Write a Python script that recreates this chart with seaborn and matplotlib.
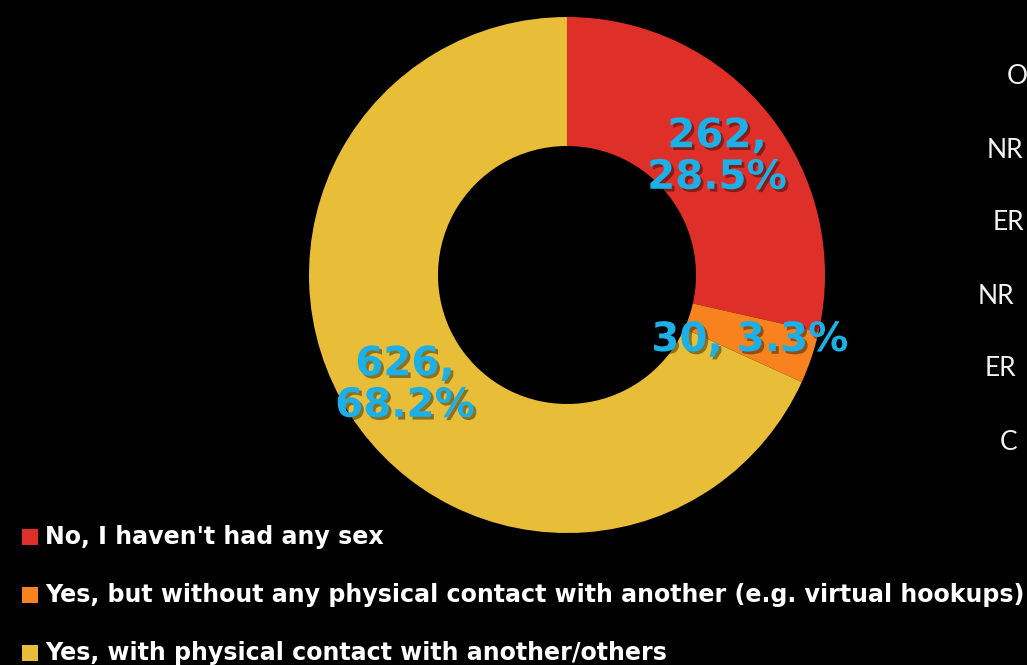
import matplotlib
matplotlib.use("Agg")
import matplotlib.pyplot as plt
import matplotlib.patheffects as pe
import seaborn as sns

categories = ["No, I haven't had any sex",
              "Yes, but without any physical contact with another (e.g. virtual hookups)",
              "Yes, with physical contact with another/others"]
counts = [262, 30, 626]
percents = [28.5, 3.3, 68.2]
colors = ["#DF2F29", "#F7821E", "#E8BE38"]
side_letters = ["O", "NR", "ER", "NR", "ER", "C"]

sns.set_theme(style="white", rc={"figure.facecolor": "black", "axes.facecolor": "black"})
plt.rcParams['font.family'] = ['DejaVu Sans']

W, H = 1027, 665
fig = plt.figure(figsize=(W / 100, H / 100), dpi=100)
ax = fig.add_axes([0, 0, 1, 1])
ax.set_facecolor("black")

cx, cy, R = 567, H - 275, 258
wedges, _ = ax.pie(counts, colors=colors, startangle=90, counterclock=False,
                   center=(cx, cy), radius=R,
                   wedgeprops=dict(width=R - 129, linewidth=0))
ax.set_xlim(0, W)
ax.set_ylim(0, H)
ax.set_aspect("equal")
ax.axis("off")

shadow = [pe.withSimplePatchShadow(offset=(2, -2), shadow_rgbFace="black", alpha=0.4)]
label_pos = [(717, 157), (750, 340), (405, 385)]
label_txt = [f"{counts[0]},\n{percents[0]}%", f"{counts[1]}, {percents[1]}%", f"{counts[2]},\n{percents[2]}%"]
for (x, y), t in zip(label_pos, label_txt):
    ax.text(x, H - y, t, color="#1BB0E8", fontsize=29, fontweight="bold",
            ha="center", va="center", linespacing=1.05, path_effects=shadow)

# legend
leg_y = [537, 595, 653]
for c, lab, y in zip(colors, categories, leg_y):
    ax.add_patch(plt.Rectangle((22, H - y - 8), 16, 16, color=c, lw=0))
    ax.text(45, H - y, lab, color="white", fontsize=17.1, fontweight="bold",
            ha="left", va="center")

# right-side cut-off letters
side_x = [1007, 987, 993, 978, 985, 1000]
side_y = [77, 150, 222, 296, 369, 442]
for s, x, y in zip(side_letters, side_x, side_y):
    ax.text(x, H - y, s, color="#F2F2F2", fontsize=19, fontweight="normal",
            family=["Lato", "DejaVu Sans"], ha="left", va="center")

fig.savefig("out.png", dpi=100, facecolor="black")
